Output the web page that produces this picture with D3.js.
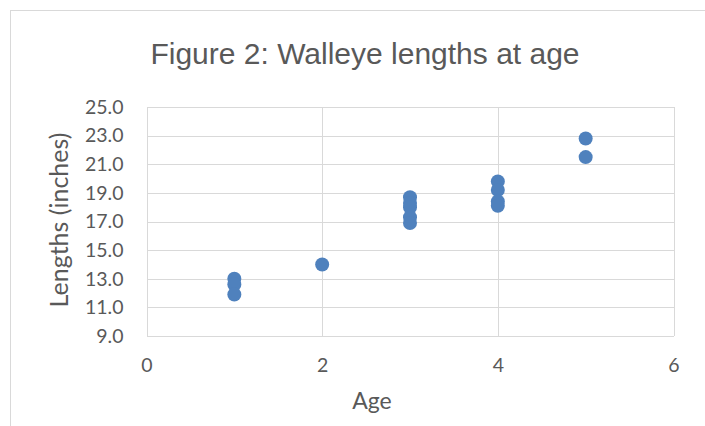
<!DOCTYPE html>
<html>
<head>
<meta charset="utf-8">
<script src="https://cdn.jsdelivr.net/npm/d3@7"></script>
<style>
  html, body { margin: 0; padding: 0; background: #fff; }
  svg { display: block; }
</style>
</head>
<body>
<svg id="chart" width="705" height="426"></svg>
<script>
// ---- data ----
const ages = [1, 1, 1, 2, 3, 3, 3, 3, 3, 4, 4, 4, 4, 5, 5];
const lengths = [13.0, 12.6, 11.9, 14.0, 18.7, 18.3, 18.0, 17.3, 16.9, 19.8, 19.2, 18.4, 18.1, 22.8, 21.5];
const xTicks = [0, 2, 4, 6];
const yTicks = [9, 11, 13, 15, 17, 19, 21, 23, 25];
const titleText = "Figure 2: Walleye lengths at age";
const xTitle = "Age";
const yTitle = "Lengths (inches)";

// ---- layout ----
const W = 705, H = 426;
const plot = { left: 146.5, right: 673.5, top: 107, bottom: 336 };
const grid = "#d9d9d9";
const textCol = "#595959";
const marker = "#4f81bd";
const labelFont = "Lato, 'Open Sans', sans-serif";

const svg = d3.select("#chart");

// chart border
svg.append("rect")
  .attr("x", 10.5).attr("y", 10.5)
  .attr("width", W + 20).attr("height", H + 20)
  .attr("fill", "none").attr("stroke", grid).attr("stroke-width", 1);

const x = d3.scaleLinear().domain([0, 6]).range([plot.left, plot.right]);
const y = d3.scaleLinear().domain([9, 25]).range([plot.bottom, plot.top]);

// horizontal gridlines via axis
const yGrid = svg.append("g")
  .attr("transform", `translate(${plot.left},0)`)
  .call(d3.axisLeft(y).tickValues(yTicks).tickSize(-(plot.right - plot.left)).tickFormat(""));
yGrid.select(".domain").remove();
yGrid.selectAll(".tick line").attr("stroke", grid).attr("stroke-width", 1)
  .attr("shape-rendering", "crispEdges");

// vertical gridlines via axis
const xGrid = svg.append("g")
  .attr("transform", `translate(0,${plot.bottom})`)
  .call(d3.axisBottom(x).tickValues(xTicks).tickSize(-(plot.bottom - plot.top)).tickFormat(""));
xGrid.select(".domain").remove();
xGrid.selectAll(".tick line").attr("stroke", grid).attr("stroke-width", 1)
  .attr("shape-rendering", "crispEdges");

// y tick labels
const yAxis = svg.append("g")
  .attr("transform", `translate(${plot.left - 23},0)`)
  .call(d3.axisLeft(y).tickValues(yTicks).tickSize(0).tickPadding(0).tickFormat(d3.format(".1f")));
yAxis.select(".domain").remove();
yAxis.selectAll("text")
  .attr("fill", textCol)
  .style("font-family", labelFont)
  .style("font-size", "19.5px");

// x tick labels
const xAxis = svg.append("g")
  .attr("transform", `translate(0,${plot.bottom + 22})`)
  .call(d3.axisBottom(x).tickValues(xTicks).tickSize(0).tickPadding(0).tickFormat(d3.format("d")));
xAxis.select(".domain").remove();
xAxis.selectAll("text")
  .attr("fill", textCol)
  .style("font-family", labelFont)
  .style("font-size", "19.5px");

// points
svg.append("g").selectAll("circle")
  .data(ages.map((a, i) => ({ a, l: lengths[i] })))
  .join("circle")
  .attr("cx", d => x(d.a))
  .attr("cy", d => y(d.l))
  .attr("r", 7)
  .attr("fill", marker);

// title
svg.append("text")
  .attr("x", 365).attr("y", 64)
  .attr("text-anchor", "middle")
  .attr("fill", textCol)
  .style("font-family", "'Liberation Sans', Arial, sans-serif")
  .style("font-size", "30px")
  .text(titleText);

// axis titles
svg.append("text")
  .attr("x", 372).attr("y", 409)
  .attr("text-anchor", "middle")
  .attr("fill", textCol)
  .style("font-family", labelFont)
  .style("font-size", "23px")
  .text(xTitle);

svg.append("text")
  .attr("transform", `translate(68,220) rotate(-90)`)
  .attr("text-anchor", "middle")
  .attr("fill", textCol)
  .style("font-family", labelFont)
  .style("font-size", "25px")
  .text(yTitle);
</script>
</body>
</html>
